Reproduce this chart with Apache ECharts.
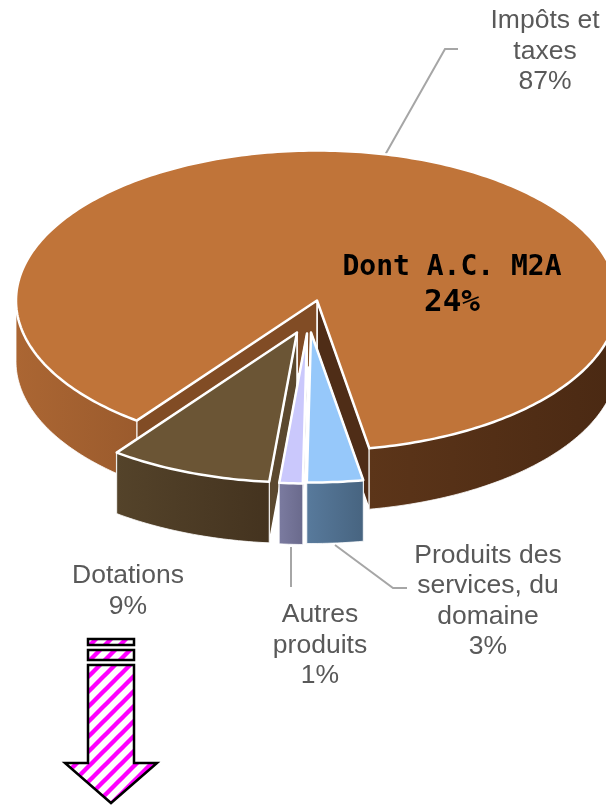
<!DOCTYPE html>
<html>
<head>
<meta charset="utf-8">
<style>
html, body { margin: 0; padding: 0; background: #fff; }
#chart { width: 606px; height: 805px; }
</style>
<script src="https://cdn.jsdelivr.net/npm/echarts@6/dist/echarts.min.js"></script>
</head>
<body>
<div id="chart"></div>
<script>
// share of each slice in %, in drawing order (back to front)
const categories = ['Impôts et\ntaxes', 'Dotations', 'Autres\nproduits', 'Produits des\nservices, du\ndomaine']
const shares = [87, 8.75, 1.25, 3]
const noteName = 'Dont A.C. M2A'
const noteShare = 24

// pie layout
const cx = 317
const cy = 300.5
const rx = 301
const ry = 150
const depth = 61
const startAngle = 170
const explode = [[0, 0], [-20, 32], [-10, 33], [-6, 32]]

// slice styles
const topColors = ['#c07439', '#6b5535', '#cac8fc', '#96c8fa']
const startFaceColors = ['#4f2d17', '#6b5535', '#cac8fc', '#96c8fa']
const endFaceColors = ['#814c25', '#5b482e', '#5b5b78', '#4f6d8c']
const sideColors = [
    [['#5c3519', '#4a2913'], ['#ab6633', '#9b5b2d']],
    [['#54432a', '#44331f']],
    [['#7b7ba0', '#6a6a8c']],
    [['#587a9c', '#476480']]
]

// label centres and leader lines
const labelCenters = [[545, 51.5], [128, 591], [320, 645.5], [488, 601]]
const leaders = [
    [[458, 49], [445, 49], [385, 155]],
    [[291, 547], [291, 587]],
    [[335, 545], [393, 588], [407, 588]]
]

function point (deg, off, drop) {
    const t = deg * Math.PI / 180
    return [cx + off[0] + rx * Math.sin(t), cy + off[1] + drop - ry * Math.cos(t)]
}

function arc (from, to, off, drop) {
    const pts = []
    const n = Math.max(1, Math.ceil(Math.abs(from - to)))
    for (let i = 0; i <= n; i++) {
        pts.push(point(from + (to - from) * i / n, off, drop))
    }
    return pts
}

function poly (points, fill, lineWidth) {
    return {
        type: 'polygon',
        shape: { points: points },
        style: { fill: fill, stroke: '#fff', lineWidth: lineWidth, lineJoin: 'round' }
    }
}

function hGradient (pair) {
    return {
        type: 'linear', x: 0, y: 0, x2: 1, y2: 0,
        colorStops: [{ offset: 0, color: pair[0] }, { offset: 1, color: pair[1] }]
    }
}

function edgeFace (deg, off, color) {
    const tip = [cx + off[0], cy + off[1]]
    const a = point(deg, off, 0)
    return poly([tip, a, [a[0], a[1] + depth], [tip[0], tip[1] + depth]], color, 1.5)
}

// parts of the descending angle range that face the viewer
function frontRanges (from, to) {
    const out = []
    ;[[270, 90], [-90, -270]].forEach(function (w) {
        const a = Math.min(from, w[0])
        const b = Math.max(to, w[1])
        if (a > b) out.push([a, b])
    })
    return out
}

function renderSlice (params, api) {
    const i = params.dataIndex
    let from = startAngle
    for (let k = 0; k < i; k++) from -= shares[k] * 3.6
    const to = from - api.value(0) * 3.6
    const off = explode[i]
    const children = [
        edgeFace(from, off, startFaceColors[i]),
        edgeFace(to, off, endFaceColors[i])
    ]
    frontRanges(from, to).forEach(function (range, j) {
        const upper = arc(range[0], range[1], off, 0)
        const lower = arc(range[1], range[0], off, depth)
        const colors = sideColors[i][Math.min(j, sideColors[i].length - 1)]
        children.push(poly(upper.concat(lower), hGradient(colors), 0.8))
    })
    const tip = [cx + off[0], cy + off[1]]
    children.push(poly([tip].concat(arc(from, to, off, 0)), topColors[i], 2.5))
    return { type: 'group', children: children }
}

function stripes () {
    const size = 15
    const c = document.createElement('canvas')
    c.width = size
    c.height = size
    const ctx = c.getContext('2d')
    ctx.fillStyle = '#fff'
    ctx.fillRect(0, 0, size, size)
    ctx.strokeStyle = '#ff00ff'
    ctx.lineWidth = 4.4
    ;[-size, 0, size].forEach(function (d) {
        ctx.beginPath()
        ctx.moveTo(d - 2, size + 2)
        ctx.lineTo(d + size + 2, -2)
        ctx.stroke()
    })
    return { image: c, repeat: 'repeat' }
}

const labelFont = '26.5px "Liberation Sans", Arial, sans-serif'
const graphics = []

leaders.forEach(function (pts) {
    graphics.push({
        type: 'polyline',
        z: 1,
        shape: { points: pts },
        style: { fill: null, stroke: '#a6a6a6', lineWidth: 2 }
    })
})

categories.forEach(function (name, i) {
    graphics.push({
        type: 'text',
        z: 20,
        x: labelCenters[i][0],
        y: labelCenters[i][1],
        style: {
            text: name + '\n' + Math.round(shares[i]) + '%',
            font: labelFont,
            fill: '#595959',
            align: 'center',
            verticalAlign: 'middle',
            lineHeight: 30.4
        }
    })
})

graphics.push({
    type: 'text',
    z: 20,
    x: 452,
    y: 285,
    style: {
        text: '{n|' + noteName + '}\n{v|' + noteShare + '%}',
        align: 'center',
        verticalAlign: 'middle',
        rich: {
            n: { font: 'bold 28px "DejaVu Sans Mono", monospace', fill: '#000', lineHeight: 35, align: 'center' },
            v: { font: 'bold 31px "DejaVu Sans Mono", monospace', fill: '#000', lineHeight: 35, align: 'center' }
        }
    }
})

// the striped arrow under Dotations
const hatch = stripes()
const arrowStyle = { fill: hatch, stroke: '#000', lineWidth: 2.5, lineJoin: 'miter' }
;[[88, 639, 46, 6], [88, 650, 46, 10]].forEach(function (r) {
    graphics.push({
        type: 'rect',
        z: 20,
        shape: { x: r[0], y: r[1], width: r[2], height: r[3] },
        style: arrowStyle
    })
})
graphics.push({
    type: 'polygon',
    z: 20,
    shape: { points: [[88, 665], [134, 665], [134, 763], [157, 763], [111, 803], [65, 763], [88, 763]] },
    style: arrowStyle
})

const myChart = echarts.init(document.getElementById('chart'), null, { renderer: 'canvas' })

myChart.setOption({
    animation: false,
    backgroundColor: '#fff',
    graphic: graphics,
    series: [{
        type: 'custom',
        coordinateSystem: 'none',
        silent: true,
        z: 5,
        renderItem: renderSlice,
        data: shares
    }]
})
</script>
</body>
</html>
